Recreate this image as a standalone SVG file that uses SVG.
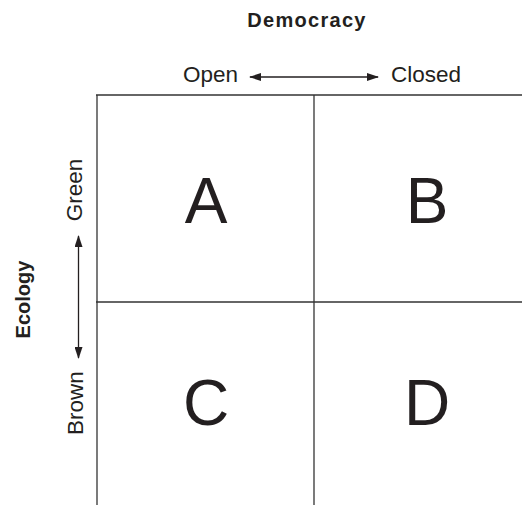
<svg xmlns="http://www.w3.org/2000/svg" width="522" height="505" viewBox="0 0 522 505">
<style>
.t{font-family:"Liberation Sans",Arial,sans-serif;fill:#231f20}
.ax{font-size:22.5px}
.bold{font-weight:bold;font-size:20px}
.big{font-size:64px;text-anchor:middle}
.grid{stroke:#333;stroke-width:1.3;fill:none}
.arr{stroke:#231f20;stroke-width:1.3;fill:none}
</style>
<defs>
<marker id="ah" markerWidth="12" markerHeight="8" refX="11" refY="4" orient="auto-start-reverse" markerUnits="userSpaceOnUse">
<path d="M0,0 L12,4 L0,8 Z" fill="#231f20"/>
</marker>
</defs>
<rect width="522" height="505" fill="#fff"/>
<g id="labels">
<text class="t bold" x="307" y="27" text-anchor="middle" letter-spacing="1.3">Democracy</text>
<text class="t ax" x="183" y="82">Open</text>
<text class="t ax" x="391" y="82">Closed</text>
<text class="t bold" transform="translate(30,299.5) rotate(-90)" text-anchor="middle">Ecology</text>
<text class="t ax" transform="translate(82,190) rotate(-90)" text-anchor="middle">Green</text>
<text class="t ax" transform="translate(83,403) rotate(-90)" text-anchor="middle">Brown</text>
</g>
<g id="connectors">
<line class="arr" x1="250" y1="77" x2="378" y2="77" marker-start="url(#ah)" marker-end="url(#ah)"/>
<line class="arr" x1="78.5" y1="236" x2="78.5" y2="358" marker-start="url(#ah)" marker-end="url(#ah)"/>
</g>
<g id="grid">
<line class="grid" x1="96" y1="95" x2="522" y2="95"/>
<line class="grid" x1="96" y1="302" x2="522" y2="302"/>
<line class="grid" x1="97" y1="95" x2="97" y2="505"/>
<line class="grid" x1="314" y1="95" x2="314" y2="505"/>
</g>
<g id="A"><text class="t big" x="206" y="223">A</text></g>
<g id="B"><text class="t big" x="427" y="223">B</text></g>
<g id="C"><text class="t big" x="206" y="425">C</text></g>
<g id="D"><text class="t big" x="427" y="425">D</text></g>
</svg>
